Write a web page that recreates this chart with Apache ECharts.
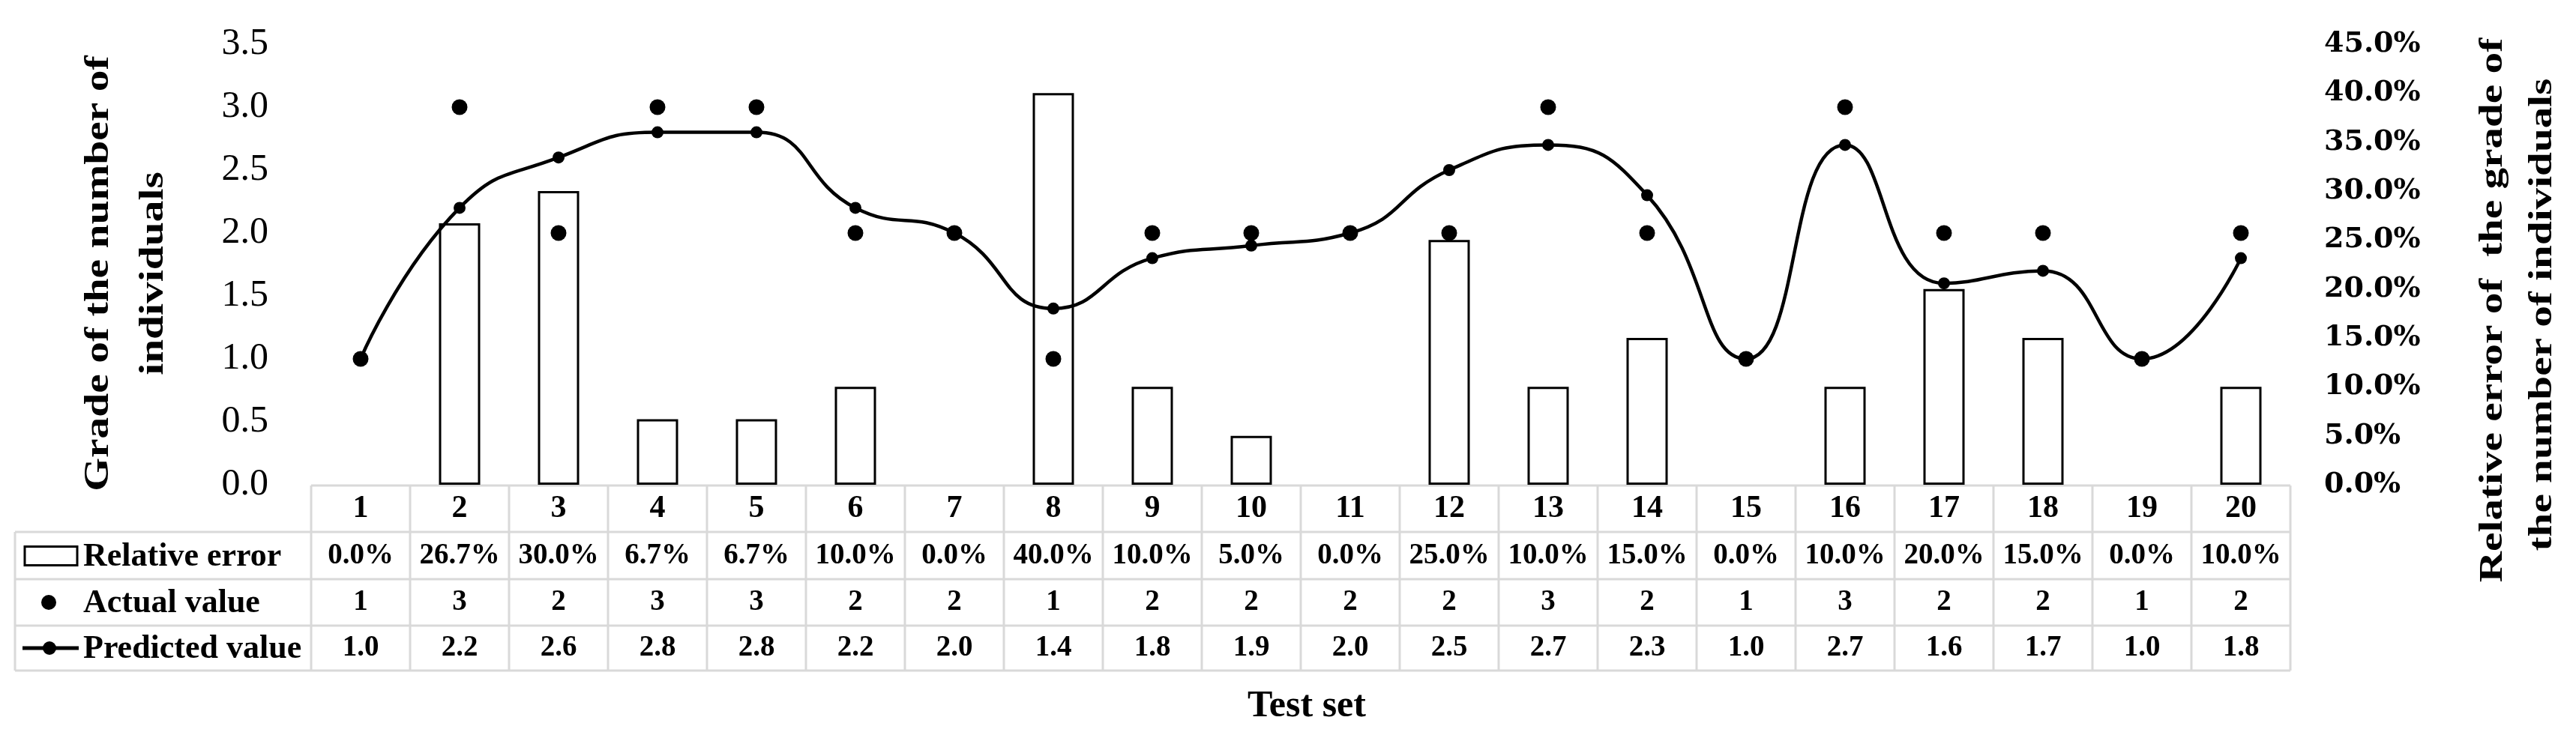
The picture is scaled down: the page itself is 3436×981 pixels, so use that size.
<!DOCTYPE html>
<html>
<head>
<meta charset="utf-8">
<script src="https://cdn.jsdelivr.net/npm/echarts@6/dist/echarts.min.js"></script>
<style>
  html, body { margin: 0; padding: 0; background: #fff; }
  #main { width: 3436px; height: 981px; }
</style>
</head>
<body>
<div id="main"></div>
<script>
let testSets = ['1','2','3','4','5','6','7','8','9','10','11','12','13','14','15','16','17','18','19','20'];
let relError = [0, 0.267, 0.30, 0.067, 0.067, 0.10, 0, 0.40, 0.10, 0.05, 0, 0.25, 0.10, 0.15, 0, 0.10, 0.20, 0.15, 0, 0.10];
let actualVal = [1, 3, 2, 3, 3, 2, 2, 1, 2, 2, 2, 2, 3, 2, 1, 3, 2, 2, 1, 2];
let predictedVal = [1.0, 2.2, 2.6, 2.8, 2.8, 2.2, 2.0, 1.4, 1.8, 1.9, 2.0, 2.5, 2.7, 2.3, 1.0, 2.7, 1.6, 1.7, 1.0, 1.8];

const serif = 'Liberation Serif';
let myChart = echarts.init(document.getElementById('main'));

let option = {
    backgroundColor: 'white',
    animation: false,
    grid: { left: 415, right: 381, top: 59, bottom: 334 },
    xAxis: {
        type: 'category',
        data: testSets,
        axisLine: { show: false },
        axisTick: { show: false },
        axisLabel: {
            margin: 32, verticalAlign: 'middle',
            fontFamily: serif, fontWeight: 'bold', fontSize: 42, color: '#000'
        }
    },
    yAxis: [{
        type: 'value', min: 0, max: 3.5, interval: 0.5,
        axisLine: { show: false }, axisTick: { show: false }, splitLine: { show: false },
        axisLabel: {
            margin: 57, fontFamily: serif, fontSize: 50, color: '#000',
            formatter: v => v.toFixed(1)
        }
    }, {
        type: 'value', min: 0, max: 0.45, interval: 0.05,
        axisLine: { show: false }, axisTick: { show: false }, splitLine: { show: false },
        axisLabel: {
            margin: 45, fontFamily: 'DejaVu Serif', fontWeight: 'bold', fontSize: 38, color: '#000',
            formatter: v => (v * 100).toFixed(1) + '%'
        }
    }],
    series: [{
        name: 'Relative error', type: 'bar', yAxisIndex: 1,
        data: relError.map(v => (v === 0 ? '-' : v)),
        barWidth: 55,
        itemStyle: { color: '#fff', borderColor: '#000', borderWidth: 3 }
    }, {
        name: 'Predicted value', type: 'line', data: predictedVal, smooth: 0.5,
        symbol: 'circle', symbolSize: 16,
        lineStyle: { color: '#000', width: 4.5 }, itemStyle: { color: '#000' }, z: 3
    }, {
        name: 'Actual value', type: 'scatter', data: actualVal,
        symbol: 'circle', symbolSize: 21, itemStyle: { color: '#000', opacity: 1 }, z: 4
    }]
};
myChart.setOption(option);

// table below the plot
let rowY = [648, 710, 773, 835, 895];
let left = 20, colLeft = 415, right = 3055;
let colW = (right - colLeft) / testSets.length;
let g = [];
let gray = { stroke: '#d9d9d9', lineWidth: 3 };
function hline(x1, x2, y) { g.push({ type: 'line', shape: { x1: x1, y1: y, x2: x2, y2: y }, style: gray, silent: true }); }
function vline(x, y1, y2) { g.push({ type: 'line', shape: { x1: x, y1: y1, x2: x, y2: y2 }, style: gray, silent: true }); }
hline(colLeft, right, rowY[0]);
for (let r = 1; r < rowY.length; r++) hline(left, right, rowY[r]);
vline(left, rowY[1], rowY[4]);
for (let i = 0; i <= testSets.length; i++) vline(colLeft + i * colW, rowY[0], rowY[4]);

let rows = [
    relError.map(v => (v * 100).toFixed(1) + '%'),
    actualVal.map(v => String(v)),
    predictedVal.map(v => v.toFixed(1))
];
function txt(x, y, s, size, align) {
    g.push({ type: 'text', x: x, y: y, silent: true,
        style: { text: s, fontFamily: serif, fontWeight: 'bold', fontSize: size, fill: '#000',
            align: align || 'center', verticalAlign: 'middle' } });
}
rows.forEach((vals, r) => {
    let cy = (rowY[r + 1] + rowY[r + 2]) / 2;
    vals.forEach((s, i) => {
        let cx = myChart.convertToPixel({ xAxisIndex: 0 }, i);
        txt(cx, cy, s, 39);
    });
});
// legend cells
let legendNames = ['Relative error', 'Actual value', 'Predicted value'];
legendNames.forEach((n, r) => txt(111, (rowY[r + 1] + rowY[r + 2]) / 2 + 2, n, 44, 'left'));
let c1 = (rowY[1] + rowY[2]) / 2, c2 = (rowY[2] + rowY[3]) / 2, c3 = (rowY[3] + rowY[4]) / 2;
g.push({ type: 'rect', shape: { x: 33, y: c1 - 12, width: 70, height: 25 }, style: { fill: '#fff', stroke: '#000', lineWidth: 3 } });
g.push({ type: 'circle', shape: { cx: 65, cy: c2, r: 10 }, style: { fill: '#000' } });
g.push({ type: 'line', shape: { x1: 30, y1: c3, x2: 105, y2: c3 }, style: { stroke: '#000', lineWidth: 5 } });
g.push({ type: 'circle', shape: { cx: 66, cy: c3, r: 9 }, style: { fill: '#000' } });

// axis titles
g.push({ type: 'text', x: 132, y: 365, rotation: Math.PI / 2, scaleX: 1.25, silent: true,
    style: { text: 'Grade of the number of', fontFamily: serif, fontWeight: 'bold', fontSize: 46, fill: '#000', align: 'center', verticalAlign: 'middle' } });
g.push({ type: 'text', x: 205, y: 365, rotation: Math.PI / 2, scaleX: 1.25, silent: true,
    style: { text: 'individuals', fontFamily: serif, fontWeight: 'bold', fontSize: 46, fill: '#000', align: 'center', verticalAlign: 'middle' } });
g.push({ type: 'text', x: 3326, y: 414, rotation: Math.PI / 2, scaleX: 1.3, silent: true,
    style: { text: 'Relative error of  the grade of', fontFamily: serif, fontWeight: 'bold', fontSize: 44, fill: '#000', align: 'center', verticalAlign: 'middle' } });
g.push({ type: 'text', x: 3392, y: 420, rotation: Math.PI / 2, scaleX: 1.3, silent: true,
    style: { text: 'the number of individuals', fontFamily: serif, fontWeight: 'bold', fontSize: 44, fill: '#000', align: 'center', verticalAlign: 'middle' } });
txt(1743, 943, 'Test set', 50);

myChart.setOption({ graphic: g });
</script>
</body>
</html>
